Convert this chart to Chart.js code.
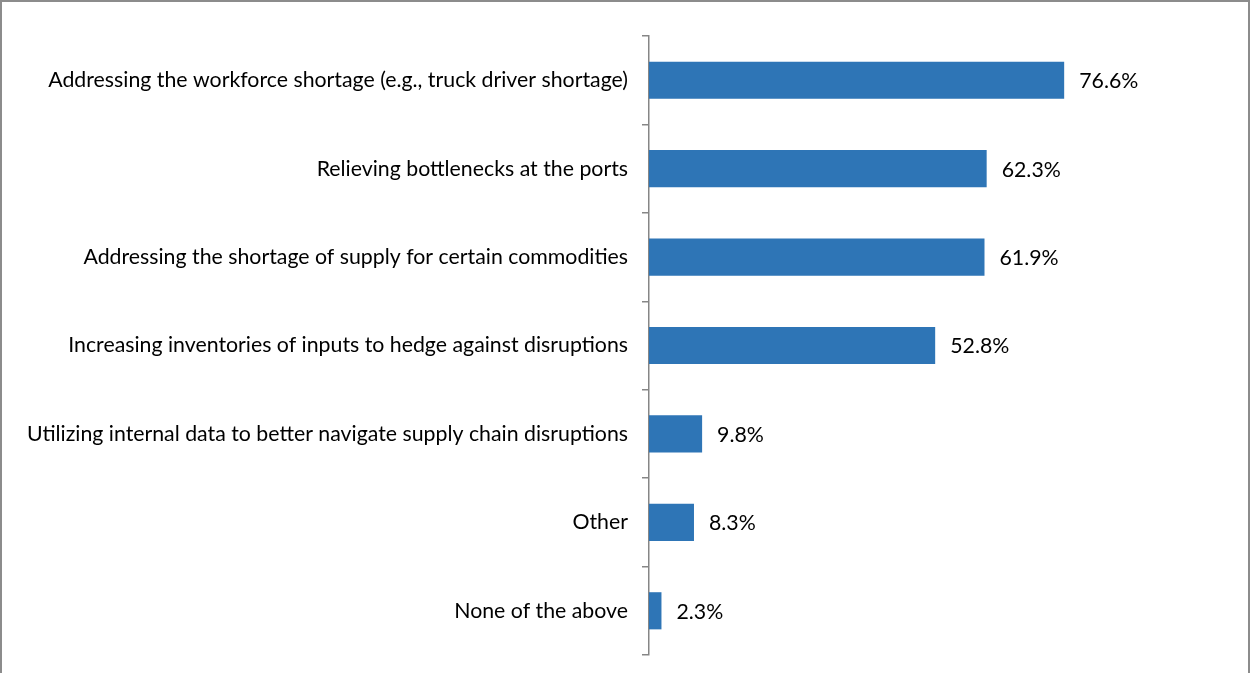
<!DOCTYPE html>
<html>
<head>
<meta charset="utf-8">
<script src="https://cdn.jsdelivr.net/npm/chart.js@4"></script>
<style>
  html, body { margin: 0; padding: 0; background: #fff; }
  #frame {
    position: absolute; left: 0; top: 0;
    width: 1250px; height: 673px;
    box-sizing: border-box;
    border-top: 2px solid #8c8c8c;
    border-left: 2px solid #8c8c8c;
    border-right: 2px solid #8c8c8c;
  }
  #wrap { position: absolute; left: 0; top: 0; width: 1250px; height: 673px; }
</style>
</head>
<body>
<div id="wrap"><canvas id="myChart" width="1250" height="673"></canvas></div>
<div id="frame"></div>
<script>
var categories = [
  'Addressing the workforce shortage (e.g., truck driver shortage)',
  'Relieving bottlenecks at the ports',
  'Addressing the shortage of supply for certain commodities',
  'Increasing inventories of inputs to hedge against disruptions',
  'Utilizing internal data to better navigate supply chain disruptions',
  'Other',
  'None of the above'
];
var shares = [76.6, 62.3, 61.9, 52.8, 9.8, 8.3, 2.3];

// draws the % next to each bar
var valueLabels = {
  id: 'valueLabels',
  afterDatasetsDraw: function(chart){
    var ctx = chart.ctx;
    var meta = chart.getDatasetMeta(0);
    ctx.save();
    ctx.font = '21.3px Lato';
    ctx.fillStyle = '#000';
    ctx.textAlign = 'left';
    ctx.textBaseline = 'middle';
    meta.data.forEach(function(bar, i){
      ctx.fillText(shares[i].toFixed(1) + '%', bar.x + 15, bar.y + 1);
    });
    ctx.restore();
  }
};

var myChart = new Chart(document.getElementById('myChart').getContext('2d'), {
  type: 'bar',
  data: {
    labels: categories,
    datasets: [{
      data: shares,
      backgroundColor: '#2E75B6',
      borderWidth: 0,
      categoryPercentage: 1,
      barPercentage: 0.42
    }]
  },
  options: {
    indexAxis: 'y',
    responsive: false,
    animation: false,
    layout: { padding: { left: 0, right: 59, top: 36, bottom: 18 } },
    plugins: {
      legend: { display: false },
      tooltip: { enabled: false }
    },
    scales: {
      x: { display: false, min: 0, max: 100 },
      y: {
        afterFit: function(scale){
          scale.width = 649;
          scale.paddingTop = 0;
          scale.paddingBottom = 0;
        },
        border: { display: true, color: '#868686', width: 1.5 },
        grid: {
          offset: true,
          drawOnChartArea: false,
          drawTicks: true,
          tickLength: 7,
          color: '#868686',
          lineWidth: 1.5
        },
        ticks: {
          color: '#000',
          padding: 14,
          font: { family: 'Lato', size: 21.3 }
        }
      }
    }
  },
  plugins: [valueLabels]
});
</script>
</body>
</html>
